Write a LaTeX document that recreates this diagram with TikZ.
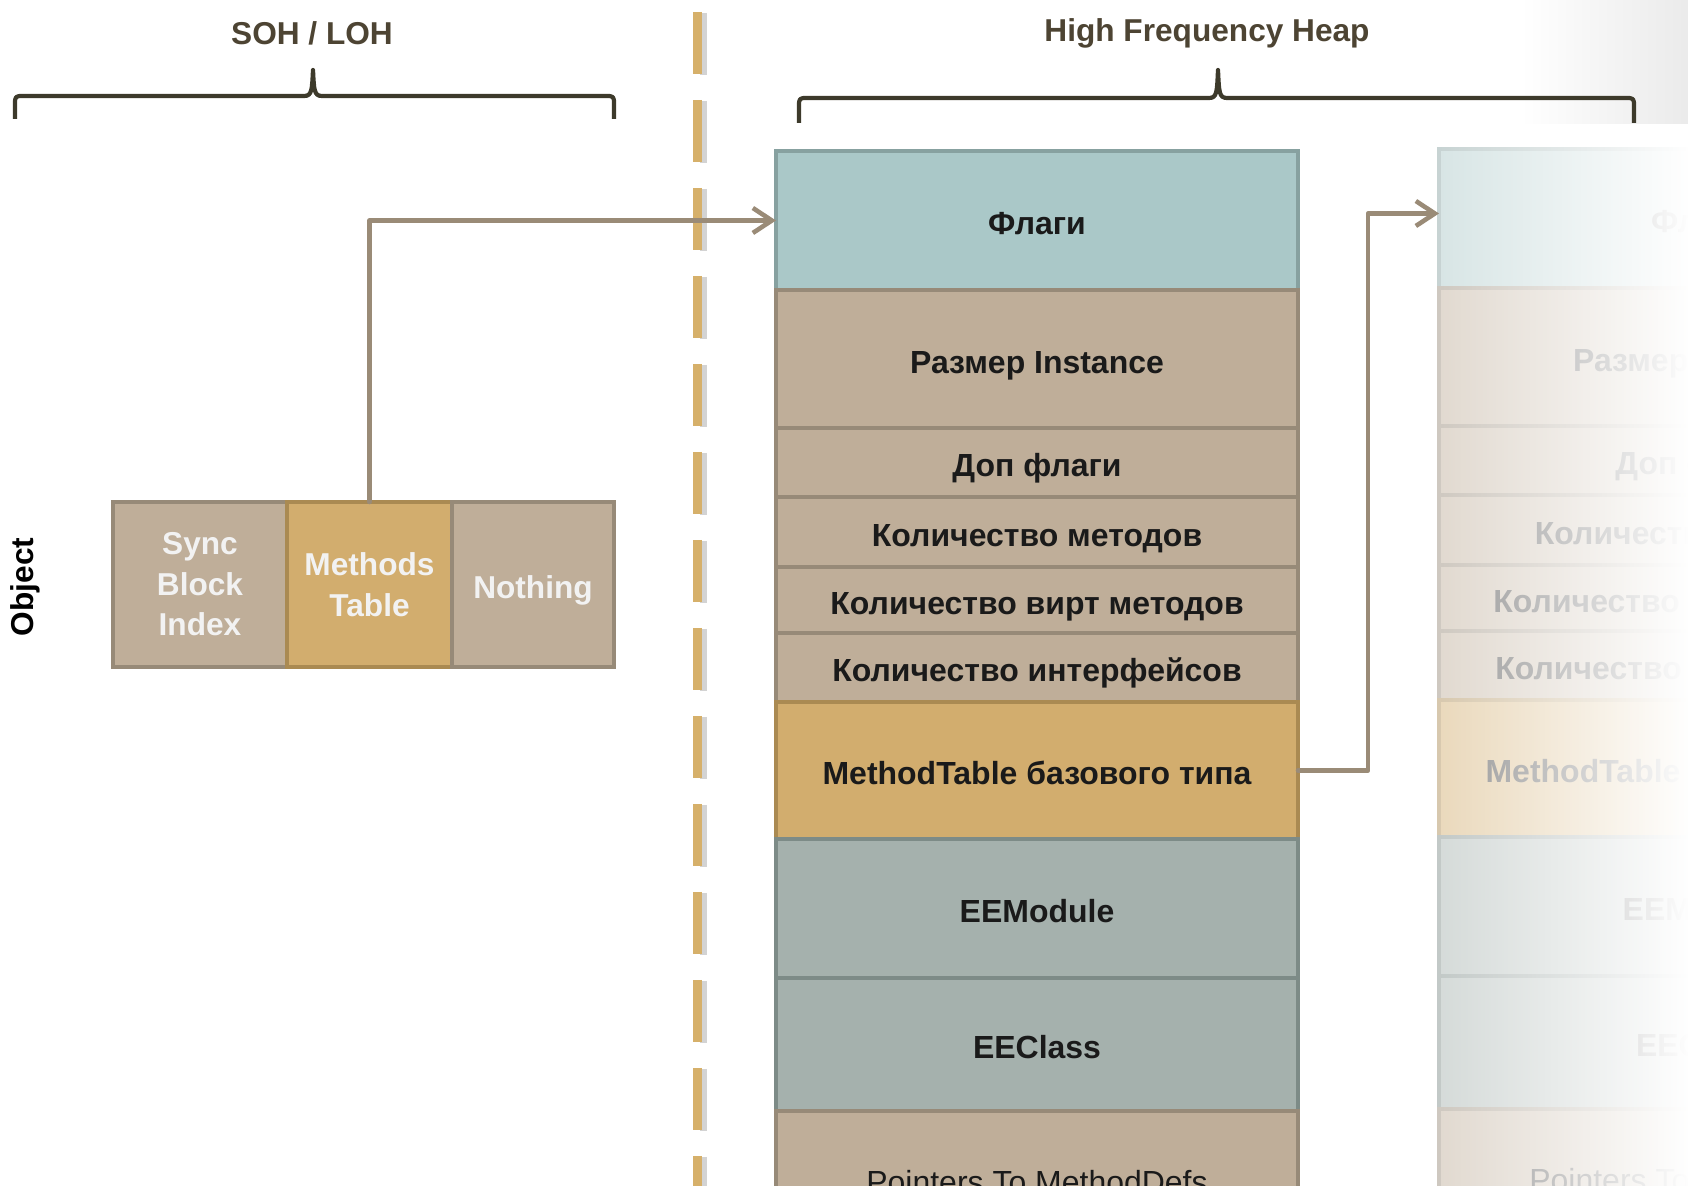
\documentclass[tikz,border=0pt]{standalone}
\usepackage{fontspec}
\setmainfont{Liberation Sans}
\usetikzlibrary{positioning,arrows.meta,fadings}

\definecolor{flagcol}{HTML}{AAC8C8}
\definecolor{flagline}{HTML}{87A1A0}
\definecolor{browncol}{HTML}{BFAE99}
\definecolor{brownline}{HTML}{978A78}
\definecolor{goldcol}{HTML}{D2AD6E}
\definecolor{goldline}{HTML}{AA8A52}
\definecolor{slatecol}{HTML}{A5B1AD}
\definecolor{slateline}{HTML}{7D8B87}
\definecolor{clampcol}{HTML}{3D3A2B}
\definecolor{headcol}{HTML}{4D4433}
\definecolor{pointercol}{HTML}{9A8B77}
\definecolor{sepcol}{HTML}{D6B06A}
\definecolor{textcol}{HTML}{1A1A1A}

\tikzfading[name=fadeaway, left color=transparent!47, right color=transparent!0]

\tikzset{
  boxcell/.style={draw, line width=1.4pt, outer sep=0pt, inner sep=0pt, align=center},
  tablerow/.style={boxcell, minimum width=5.22cm, text=textcol, text height=8pt, text depth=0pt, font=\fontsize{9.1}{11}\selectfont\bfseries},
  flagrow/.style={tablerow, fill=flagcol, draw=flagline},
  brownrow/.style={tablerow, fill=browncol, draw=brownline},
  goldrow/.style={tablerow, fill=goldcol, draw=goldline},
  slaterow/.style={tablerow, fill=slatecol, draw=slateline},
  objcell/.style={boxcell, minimum height=1.65cm, fill=browncol, draw=brownline, text=white!95!black, font=\fontsize{9}{11.5}\selectfont\bfseries},
  headtext/.style={text=headcol, font=\fontsize{9}{11}\selectfont\bfseries},
  clamp/.style={draw=clampcol, line width=1.2pt, line join=round},
  pointer/.style={draw=pointercol, line width=1.3pt, line cap=round, line join=round},
}

% one MethodTable, top left corner at #1
\newcommand{\methodtable}[1]{%
  \node[flagrow, minimum height=1.39cm, anchor=north west] (flags) at (#1) {Флаги};
  \node[brownrow, minimum height=1.38cm, below=0pt of flags] (size) {Размер Instance};
  \node[brownrow, minimum height=0.69cm, below=0pt of size] (extra) {Доп флаги};
  \node[brownrow, minimum height=0.70cm, below=0pt of extra] (nmeth) {Количество методов};
  \node[brownrow, minimum height=0.66cm, below=0pt of nmeth] (nvirt) {Количество вирт методов};
  \node[brownrow, minimum height=0.69cm, below=0pt of nvirt] (nintf) {Количество интерфейсов};
  \node[goldrow, minimum height=1.37cm, below=0pt of nintf] (parent) {MethodTable базового типа};
  \node[slaterow, minimum height=1.39cm, below=0pt of parent] (module) {EEModule};
  \node[slaterow, minimum height=1.33cm, below=0pt of module] (class) {EEClass};
  \node[brownrow, minimum height=1.36cm, below=0pt of class, font=\fontsize{9.1}{11}\selectfont\mdseries] (ptrs) {Pointers To MethodDefs};
}

\begin{document}
\begin{tikzpicture}[>={Straight Barb[length=1.9mm,width=2.5mm]}]
    \useasboundingbox (0,0) rectangle (16.88,11.86);
    \shade[left color=white, right color=black!8] (15.2,10.62) rectangle (16.88,11.86);

    %Headers
        \node[headtext] (soh) at (3.12,11.53) {SOH / LOH};
        \node[headtext] (hfh) at (12.07,11.53) {High Frequency Heap};
        \draw[clamp] (0.15,10.67) -- (0.15,10.81) .. controls (0.15,10.90) .. (0.24,10.90)
            -- (3.04,10.90) .. controls (3.12,10.90) and (3.12,10.96) .. (3.13,11.16)
            .. controls (3.14,10.96) and (3.14,10.90) .. (3.22,10.90)
            -- (6.05,10.90) .. controls (6.14,10.90) .. (6.14,10.81) -- (6.14,10.67);
        \draw[clamp] (7.99,10.63) -- (7.99,10.79) .. controls (7.99,10.88) .. (8.08,10.88)
            -- (12.09,10.88) .. controls (12.17,10.88) and (12.17,10.94) .. (12.18,11.16)
            .. controls (12.19,10.94) and (12.19,10.88) .. (12.27,10.88)
            -- (16.25,10.88) .. controls (16.34,10.88) .. (16.34,10.79) -- (16.34,10.63);

    %Skillelinje
        \draw[black!50, opacity=0.35, line width=0.07cm, dash pattern=on 0.62cm off 0.26cm] (7.03,11.73) -- (7.03,0);
        \draw[sepcol, line width=0.09cm, dash pattern=on 0.62cm off 0.26cm] (6.97,11.74) -- (6.97,0);

    %Object
        \node[rotate=90, font=\fontsize{9}{11}\selectfont\bfseries] (obj) at (0.25,5.99) {Object};
        \node[objcell, minimum width=1.74cm, anchor=north west] (sync) at (1.13,6.84) {Sync\\Block\\Index};
        \node[objcell, minimum width=1.65cm, right=0pt of sync, fill=goldcol, draw=goldline] (mtab) {Methods\\Table};
        \node[objcell, minimum width=1.62cm, right=0pt of mtab, text height=8pt, text depth=0pt] (nothing) {Nothing};

    %Tabeller
        \methodtable{7.76,10.35}
        \begin{scope}[name prefix=b-]
            \methodtable{14.39,10.37}
        \end{scope}
        \fill[white, path fading=fadeaway] (14.35,-0.2) rectangle (16.9,10.45);

    %Piler
        \draw[pointer,->] (mtab.north) |- (flags.west);
        \draw[pointer,->] (parent.east) -- ++(0.70,0) |- ([yshift=0.05cm]b-flags.west);

\end{tikzpicture}
\end{document}
